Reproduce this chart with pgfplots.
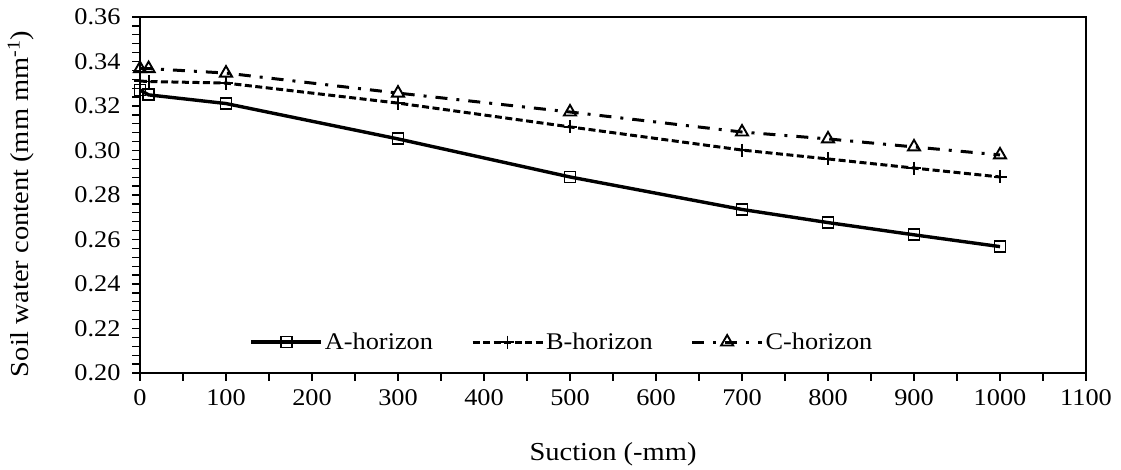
\documentclass[border=0pt]{standalone}
\usepackage{fontspec}
\setmainfont{Liberation Serif}[FakeStretch=1.1]
\usepackage{pgfplots}
\pgfplotsset{compat=1.18}

\begin{document}
\begin{tikzpicture}[x=1bp,y=1bp]
\useasboundingbox (0,0) rectangle (1121,470);
\begin{axis}[
  at={(140bp,97bp)}, anchor=south west,
  scale only axis, width=946bp, height=356bp,
  xmin=0, xmax=1100, ymin=0.20, ymax=0.36,
  xtick={0,100,...,1100}, minor xtick={50,150,...,1050},
  ytick={0.20,0.22,...,0.361}, minor y tick num=4,
  tick pos=left, tick align=outside,
  major tick length=8bp, minor tick length=8bp,
  every tick/.style={black, line width=1.3bp},
  axis line style={line width=1.5bp},
  /pgf/number format/assume math mode=true,
  yticklabel style={/pgf/number format/fixed, /pgf/number format/fixed zerofill, /pgf/number format/precision=2, font=\fontsize{24}{28}\selectfont, xshift=-8bp},
  xticklabel style={/pgf/number format/fixed, /pgf/number format/1000 sep={}, font=\fontsize{24}{28}\selectfont, yshift=-5bp},
  scaled y ticks=false,
  xlabel={Suction (-mm)},
  ylabel={Soil water content (mm mm\textsuperscript{-1})},
  xlabel style={font=\fontsize{26}{30}\selectfont, at={(axis description cs:0.5,-0.228)}, anchor=center},
  ylabel style={font=\fontsize{26}{30}\selectfont, at={(axis description cs:-0.126,0.475)}, anchor=center},
  legend columns=3,
  legend style={draw=none, fill=none, at={(0.446,0.087)}, anchor=center,
    font=\fontsize{24}{28}\selectfont,
    /tikz/every even column/.append style={column sep=36bp}},
  legend image code/.code={\draw[mark repeat=2,mark phase=2] plot coordinates {(0bp,0bp) (35bp,0bp) (70bp,0bp)};},
]
% A-horizon
\addplot[black, line width=3.4bp, mark=square, mark size=5.5bp, mark options={solid, line width=1.9bp, fill=white}]
  coordinates {(0,0.3272) (10,0.3250) (100,0.3211) (300,0.3052) (500,0.2881) (700,0.2735) (800,0.2676) (900,0.2621) (1000,0.2568)};
\addlegendentry{A-horizon}
% B-horizon
\addplot[black, line width=3.0bp, dash pattern=on 7bp off 3.5bp, mark=+, mark size=6.5bp, mark options={solid, line width=1.9bp}]
  coordinates {(0,0.3312) (10,0.3310) (100,0.3303) (300,0.3213) (500,0.3106) (700,0.3002) (800,0.2962) (900,0.2921) (1000,0.2881)};
\addlegendentry{B-horizon}
% C-horizon
\addplot[black, line width=3.0bp, dash pattern=on 12bp off 9bp on 3bp off 9bp, mark=triangle, mark size=7bp, mark options={solid, line width=1.9bp, fill=white}]
  coordinates {(0,0.3368) (10,0.3368) (100,0.3348) (300,0.3258) (500,0.3173) (700,0.3083) (800,0.3052) (900,0.3016) (1000,0.2980)};
\addlegendentry{C-horizon}
\end{axis}
\end{tikzpicture}
\end{document}
